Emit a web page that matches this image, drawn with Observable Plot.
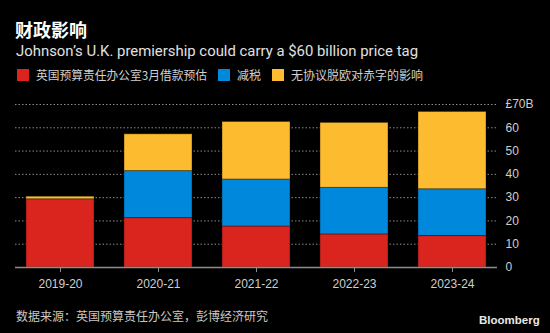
<!DOCTYPE html>
<html>
<head>
<meta charset="utf-8">
<script src="https://cdn.jsdelivr.net/npm/d3@7"></script>
<script src="https://cdn.jsdelivr.net/npm/@observablehq/plot@0.6"></script>
<style>
  html, body { margin: 0; padding: 0; background: #000; }
  body { width: 550px; height: 333px; overflow: hidden; position: relative;
         font-family: "Liberation Sans", "Noto Sans CJK SC", sans-serif; color: #ddd; }
  #header { position: relative; height: 90px; }
  #title { position: absolute; left: 15px; top: 20px; font-size: 18px; line-height: 18px; font-weight: bold; color: #fff;
           font-family: "Noto Sans CJK SC", sans-serif; }
  #subtitle { position: absolute; left: 16px; top: 44px; font-size: 15px; line-height: 15px; color: #e0e0e0; white-space: nowrap;
              font-family: "Roboto", "Liberation Sans", sans-serif; transform-origin: 0 0; }
  .sw { position: absolute; top: 69px; width: 12px; height: 12px; }
  .lt { position: absolute; top: 69px; font-size: 12px; line-height: 12px; color: #d0d0d0;
        font-family: "Noto Sans CJK SC", sans-serif; white-space: nowrap; }
  #chart { position: relative; height: 210px; }
  #footer { position: relative; height: 33px; }
  #source { position: absolute; left: 16px; top: 10px; font-size: 12px; line-height: 12px; color: #c8c8c8;
            font-family: "Noto Sans CJK SC", sans-serif; white-space: nowrap; }
  #brand { position: absolute; left: 479px; top: 15px; font-size: 11.5px; line-height: 11px; font-weight: bold; color: #e8e8e8;
           font-family: "Liberation Sans", sans-serif; }
</style>
</head>
<body>
<div id="header">
  <div id="title">财政影响</div>
  <div id="subtitle">Johnson’s U.K. premiership could carry a $60 billion price tag</div>
</div>
<div id="chart"></div>
<div id="footer">
  <div id="source">数据来源：英国预算责任办公室，彭博经济研究</div>
  <div id="brand">Bloomberg</div>
</div>
<script>
const years = ["2019-20", "2020-21", "2021-22", "2022-23", "2023-24"];
const seriesNames = ["英国预算责任办公室3月借款预估", "减税", "无协议脱欧对赤字的影响"];
const seriesColors = ["#da251f", "#0088dd", "#fdbb30"];
const obrForecast = [29.3, 21.2, 17.6, 14.2, 13.5];
const taxCuts = [0, 20.2, 20.2, 20.0, 20.1];
const noDealImpact = [1.1, 15.8, 24.7, 27.9, 33.2];
const yTicks = [0, 10, 20, 30, 40, 50, 60, 70];

const seriesValues = [obrForecast, taxCuts, noDealImpact];
const data = [];
years.forEach((yr, i) => {
  seriesNames.forEach((s, j) => data.push({year: yr, series: s, value: seriesValues[j][i]}));
});

// legend (swatch + label), laid out left to right
const header = document.getElementById("header");
const legendGap = [0, 11, 11];
let lx = 17;
seriesNames.forEach((s, j) => {
  lx += legendGap[j];
  const sw = document.createElement("span");
  sw.className = "sw"; sw.style.left = lx + "px"; sw.style.background = seriesColors[j];
  header.appendChild(sw);
  const t = document.createElement("span");
  t.className = "lt"; t.style.left = (lx + 19) + "px"; t.textContent = s;
  header.appendChild(t);
  const tw = t.getBoundingClientRect().width;
  const target = j === 0 ? 171 : null;
  if (target) { t.style.transformOrigin = "0 0"; t.style.transform = `scaleX(${target / tw})`; lx += 19 + target; }
  else lx += 19 + tw;
});

const sub = document.getElementById("subtitle");
const w = sub.getBoundingClientRect().width;
sub.style.transform = `scaleX(${402 / w})`;

const chart = Plot.plot({
  width: 550,
  height: 210,
  marginTop: 14,
  marginBottom: 33,
  marginLeft: 15,
  marginRight: 53,
  style: {background: "#000", color: "#cfcfcf", fontSize: "12px", fontFamily: "Liberation Sans, sans-serif"},
  x: {domain: years, paddingInner: 0.303, paddingOuter: 0.086, label: null},
  y: {domain: [0, 70], label: null},
  color: {domain: seriesNames, range: seriesColors},
  marks: [
    Plot.ruleY(yTicks.slice(1), {stroke: "#8a8a8a", strokeDasharray: "1.5,2", strokeWidth: 1}),
    Plot.barY(data, {x: "year", y: "value", fill: "series", order: seriesNames,
                     stroke: "#000", strokeOpacity: 0.35, strokeWidth: 1}),
    Plot.ruleY([0], {stroke: "#8c8c8c", strokeWidth: 1.5}),
    Plot.axisX({tickSize: 5, tickPadding: 7, stroke: "#8c8c8c", fill: "#cfcfcf", fontSize: 12}),
    Plot.axisY({anchor: "right", ticks: yTicks, tickSize: 0, tickPadding: 8,
                tickFormat: d => d === 70 ? "£70B" : String(d), fill: "#cfcfcf", fontSize: 12})
  ]
});
document.getElementById("chart").appendChild(chart);
</script>
</body>
</html>
